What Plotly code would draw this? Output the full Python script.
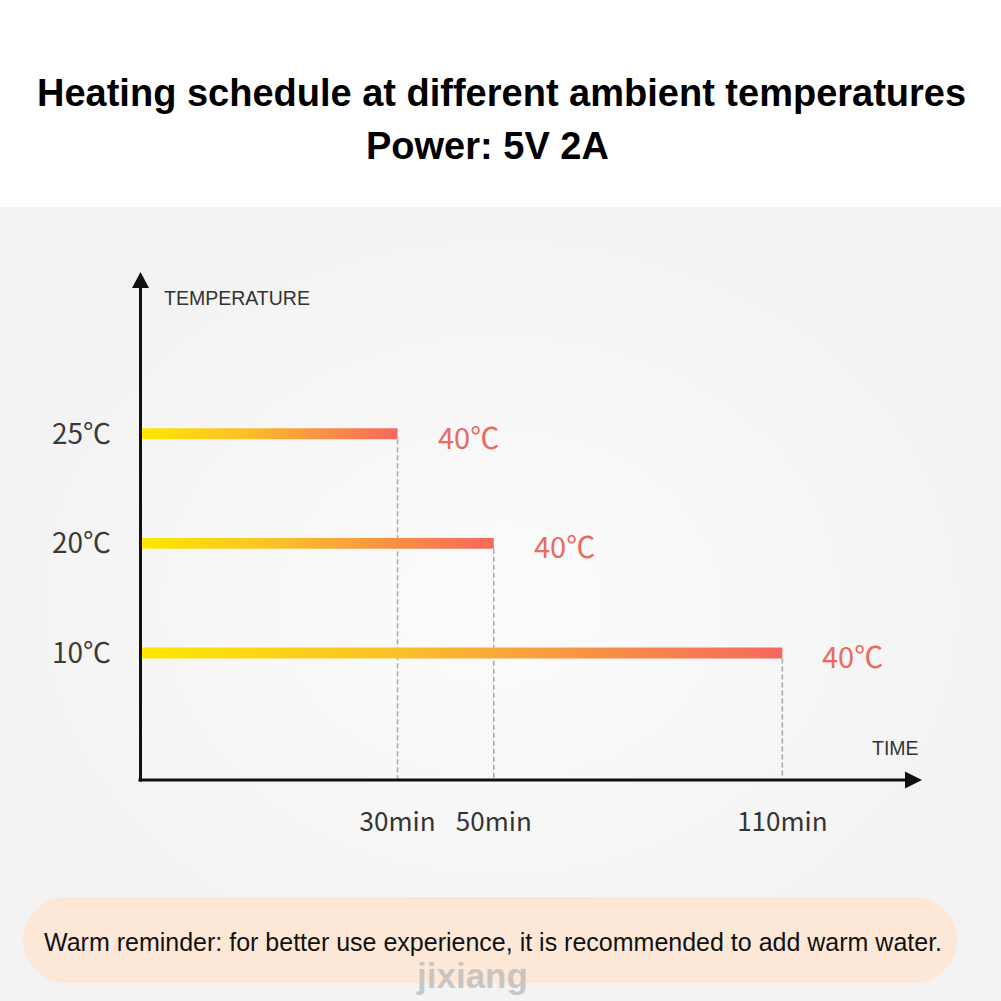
import plotly.graph_objects as go

# ---------------- data ----------------
ambient_c = [25, 20, 10]
ambient_labels = ["25℃", "20℃", "10℃"]
heat_minutes = [30, 50, 110]
time_labels = ["30min", "50min", "110min"]
target_labels = ["40℃", "40℃", "40℃"]

title_line1 = "Heating schedule at different ambient temperatures"
title_line2 = "Power: 5V 2A"
y_axis_title = "TEMPERATURE"
x_axis_title = "TIME"
reminder_text = "Warm reminder: for better use experience, it is recommended to add warm water."
watermark_text = "jixiang"

# ---------------- layout constants ----------------
W = H = 1001
X_RANGE = [-23.55, 135.5]      # schematic time axis (minutes)
Y_RANGE = [-0.16, 4.34]        # ordinal temperature slots
BAR_HALF = 0.05
BAR_SCALE = [[0.0, "#fde800"], [0.40, "#fbc02a"], [0.72, "#f98f45"], [1.0, "#f7685d"]]
CJK = "Noto Sans CJK SC, Noto Sans, sans-serif"
ARIAL = "Liberation Sans, Arial, sans-serif"

# ordinal slot for each ambient temperature (coldest lowest)
order = sorted(ambient_c)
slots = [order.index(v) + 1 for v in ambient_c]

fig = go.Figure()

# background panel (full-figure pixel-like axes x/y)
fig.add_trace(go.Scatter(
    x=[0, W, W, 0, 0], y=[207, 207, H, H, 207], mode="lines",
    fill="toself", line=dict(width=0, color="rgba(0,0,0,0)"),
    fillgradient=dict(type="radial", colorscale=[[0, "#fcfcfc"], [1, "#f3f3f3"]]),
    hoverinfo="skip", showlegend=False, xaxis="x", yaxis="y"))

# bars with horizontal gradient
for m, k in zip(heat_minutes, slots):
    t0 = X_RANGE[0]
    fig.add_trace(go.Scatter(
        x=[t0, m, m, t0, t0],
        y=[k - BAR_HALF, k - BAR_HALF, k + BAR_HALF, k + BAR_HALF, k - BAR_HALF],
        mode="lines", fill="toself",
        line=dict(width=0, color="rgba(0,0,0,0)"),
        fillgradient=dict(type="horizontal", colorscale=BAR_SCALE),
        hoverinfo="skip", showlegend=False, xaxis="x2", yaxis="y2"))
    # dashed drop line to the time axis
    fig.add_trace(go.Scatter(
        x=[m, m], y=[k - BAR_HALF, Y_RANGE[0]], mode="lines",
        line=dict(color="#a8a8a8", width=1.5, dash="5px,3px"),
        hoverinfo="skip", showlegend=False, xaxis="x2", yaxis="y2"))

annotations = []
for m, k, lab in zip(heat_minutes, slots, target_labels):
    annotations.append(dict(
        x=m, y=k, xref="x2", yref="y2", text=lab, showarrow=False,
        xanchor="left", yanchor="middle", xshift=38, yshift=-2,
        font=dict(family=CJK, size=29, color="#ea6a5f")))

# titles and decorations (pixel-like coordinates on the background axes)
annotations += [
    dict(x=501.5, y=93, text=title_line1, font=dict(family=ARIAL, size=38, color="#000", weight="bold")),
    dict(x=487, y=146, text=title_line2, font=dict(family=ARIAL, size=38, color="#000", weight="bold")),
    dict(x=162, y=298, text=y_axis_title, xanchor="left", font=dict(family=ARIAL, size=19.5, color="#333")),
    dict(x=895, y=748, text=x_axis_title, font=dict(family=ARIAL, size=19.5, color="#333")),
    dict(x=492.5, y=942, text=reminder_text, font=dict(family=ARIAL, size=25, color="#111")),
    dict(x=472, y=975, text=watermark_text, font=dict(family=ARIAL, size=35, color="rgba(185,185,185,0.75)", weight="bold")),
]
for a in annotations[len(heat_minutes):]:
    a.update(xref="x", yref="y", showarrow=False)
    a.setdefault("xanchor", "center")
    a.setdefault("yanchor", "middle")

# pill (rounded rectangle) behind reminder
L, R, T, B = 23, 957, 897, 983
r = (B - T) / 2
c = 0.5523 * r
pill = (f"M {L + r},{T} L {R - r},{T} "
        f"C {R - r + c},{T} {R},{T + r - c} {R},{T + r} "
        f"C {R},{T + r + c} {R - r + c},{B} {R - r},{B} "
        f"L {L + r},{B} "
        f"C {L + r - c},{B} {L},{T + r + c} {L},{T + r} "
        f"C {L},{T + r - c} {L + r - c},{T} {L + r},{T} Z")

shapes = [
    dict(type="path", path=pill, xref="x", yref="y", fillcolor="#fde8d8",
         line=dict(width=0), layer="above"),
    # axes lines
    dict(type="line", x0=138.5, y0=780, x1=906, y1=780, xref="x", yref="y",
         line=dict(color="#111", width=3), layer="above"),
    dict(type="line", x0=140.5, y0=781.5, x1=140.5, y1=286, xref="x", yref="y",
         line=dict(color="#111", width=3), layer="above"),
    # arrow heads
    dict(type="path", path="M 140.5,272 L 132,288 L 149,288 Z", xref="x", yref="y",
         fillcolor="#111", line=dict(width=0), layer="above"),
    dict(type="path", path="M 922,780 L 905,771.5 L 905,788.5 Z", xref="x", yref="y",
         fillcolor="#111", line=dict(width=0), layer="above"),
]

fig.update_layout(
    width=W, height=H, margin=dict(l=0, r=0, t=0, b=0),
    paper_bgcolor="#ffffff", plot_bgcolor="rgba(0,0,0,0)",
    showlegend=False,
    xaxis=dict(domain=[0, 1], range=[0, W], visible=False, fixedrange=True),
    yaxis=dict(domain=[0, 1], range=[H, 0], visible=False, fixedrange=True),
    xaxis2=dict(domain=[140 / W, 905 / W], range=X_RANGE, anchor="y2",
                showgrid=False, zeroline=False, showline=False,
                tickmode="array", tickvals=heat_minutes, ticktext=time_labels,
                ticks="", ticklabelstandoff=24,
                tickfont=dict(family=CJK, size=26, color="#333")),
    yaxis2=dict(domain=[1 - 780 / H, 1 - 287 / H], range=Y_RANGE, anchor="x2",
                showgrid=False, zeroline=False, showline=False,
                tickmode="array", tickvals=slots, ticktext=ambient_labels,
                ticks="", ticklabelstandoff=28,
                tickfont=dict(family=CJK, size=28, color="#3a3a3a")),
    annotations=annotations,
    shapes=shapes,
)

fig.write_html("out.html",
               config={"displayModeBar": False},
               post_script="document.body.style.margin='0px';document.body.style.padding='0px';")
